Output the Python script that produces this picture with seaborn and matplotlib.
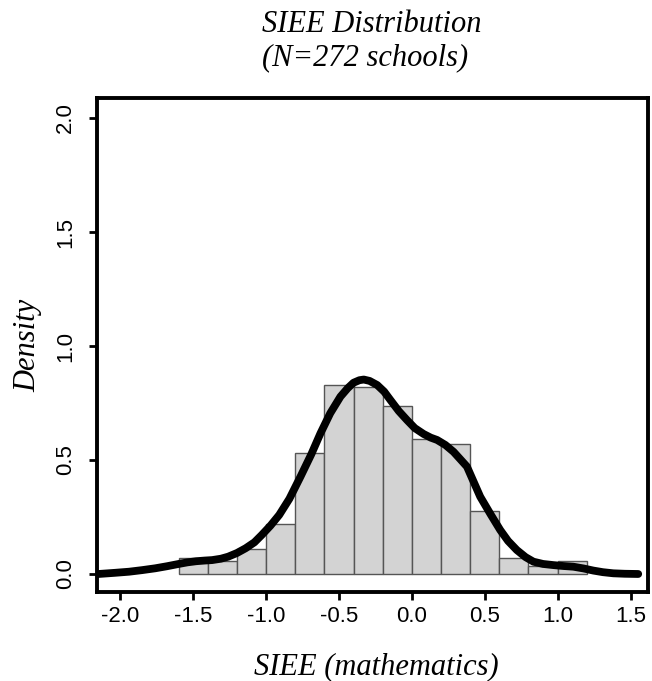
import numpy as np
import pandas as pd
import matplotlib
matplotlib.use("Agg")
import matplotlib.pyplot as plt
import seaborn as sns

# histogram bins (width 0.2) and density heights
bin_edges = [-1.6, -1.4, -1.2, -1.0, -0.8, -0.6, -0.4, -0.2, 0.0, 0.2, 0.4, 0.6, 0.8, 1.0, 1.2]
bin_density = [0.07, 0.055, 0.11, 0.22, 0.53, 0.83, 0.82, 0.735, 0.59, 0.57, 0.275, 0.072, 0.037, 0.055]

# kernel density curve
kde_x = [-2.15, -2.04, -1.94, -1.85, -1.76, -1.68, -1.60, -1.54, -1.48, -1.42, -1.37, -1.31,
         -1.26, -1.20, -1.14, -1.08, -1.03, -0.97, -0.91, -0.84, -0.764, -0.69, -0.627, -0.56,
         -0.49, -0.44, -0.40, -0.36, -0.33, -0.29, -0.238, -0.19, -0.147, -0.09, -0.033, 0.02,
         0.081, 0.13, 0.173, 0.23, 0.286, 0.33, 0.378, 0.42, 0.469, 0.54, 0.606, 0.66, 0.72,
         0.78, 0.834, 0.90, 0.971, 1.04, 1.108, 1.18, 1.245, 1.31, 1.382, 1.46, 1.553]
kde_y = [0.0, 0.005, 0.01, 0.017, 0.025, 0.034, 0.044, 0.051, 0.056, 0.059, 0.061, 0.067,
         0.076, 0.092, 0.113, 0.139, 0.171, 0.212, 0.259, 0.33, 0.427, 0.525, 0.617, 0.705,
         0.778, 0.815, 0.839, 0.85, 0.853, 0.847, 0.829, 0.80, 0.763, 0.715, 0.675, 0.64,
         0.614, 0.598, 0.588, 0.566, 0.536, 0.505, 0.471, 0.41, 0.339, 0.262, 0.193, 0.145,
         0.105, 0.074, 0.054, 0.044, 0.039, 0.035, 0.032, 0.024, 0.015, 0.008, 0.003, 0.001,
         0.0]

x_ticks = [-2.0, -1.5, -1.0, -0.5, 0.0, 0.5, 1.0, 1.5]
y_ticks = [0.0, 0.5, 1.0, 1.5, 2.0]

sns.set_style("ticks")
plt.rcParams['font.family'] = ['Liberation Sans', 'DejaVu Sans']
plt.rcParams['text.color'] = 'black'

fig = plt.figure(figsize=(6.52, 6.81), dpi=100)
ax = fig.add_axes([97 / 652, 1 - 592 / 681, (648 - 97) / 652, (592 - 98) / 681])

bins_df = pd.DataFrame({
    'mid': [(a + b) / 2 for a, b in zip(bin_edges[:-1], bin_edges[1:])],
    'dens': bin_density,
})
sns.histplot(data=bins_df, x='mid', weights='dens', bins=bin_edges, stat='count',
             color='#d3d3d3', edgecolor='#555555', linewidth=1.0, alpha=1.0, ax=ax)

kde_df = pd.DataFrame({'x': kde_x, 'y': kde_y})
sns.lineplot(data=kde_df, x='x', y='y', color='black', linewidth=5.6,
             solid_capstyle='round', solid_joinstyle='round', ax=ax, sort=False)

ax.set_xlim(-2.16, 1.62)
ax.set_ylim(-0.079, 2.088)
ax.set_xticks(x_ticks)
ax.set_xticklabels([f"{v:.1f}" for v in x_ticks])
ax.set_yticks(y_ticks)
ax.set_yticklabels([f"{v:.1f}" for v in y_ticks], rotation=90, va='center')
ax.set_xlabel('')
ax.set_ylabel('')
ax.tick_params(axis='both', direction='out', length=6, width=2.0, labelsize=16,
               colors='black')
ax.tick_params(axis='x', pad=4)
ax.tick_params(axis='y', pad=9)
for s in ax.spines.values():
    s.set_linewidth(2.8)
    s.set_color('black')
    s.set_visible(True)

serif = dict(family=['Liberation Serif', 'DejaVu Serif'], style='italic', fontsize=22,
             color='black')
fig.text(262 / 652, 1 - 32 / 681, 'SIEE Distribution', ha='left', va='baseline', **serif)
fig.text(262 / 652, 1 - 65 / 681, '(N=272 schools)', ha='left', va='baseline', **serif)
fig.text(376 / 652, 1 - 674 / 681, 'SIEE (mathematics)', ha='center', va='baseline', **serif)
fig.text(28 / 652, 1 - 345 / 681, 'Density', ha='center', va='center', rotation=90, **serif)

fig.savefig('out.png', dpi=100)
